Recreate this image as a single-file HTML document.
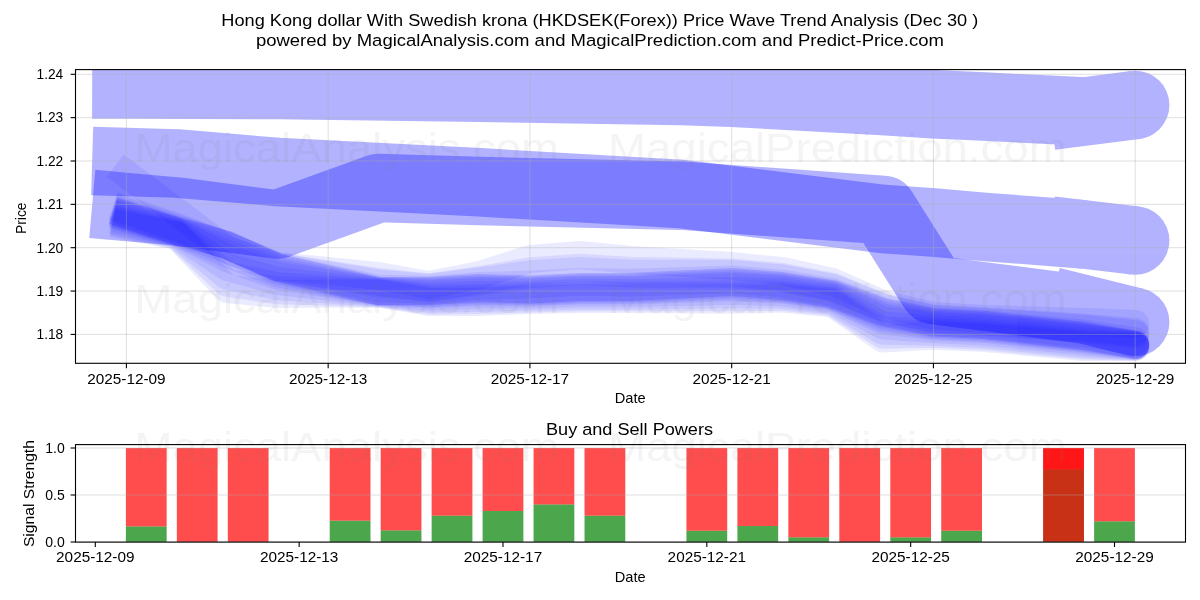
<!DOCTYPE html><html><head><meta charset="utf-8"><style>html,body{margin:0;padding:0;background:#fff;width:1200px;height:600px;overflow:hidden}</style></head><body><svg width="1200" height="600" viewBox="0 0 1200 600" style="display:block;will-change:transform">
<rect x="0" y="0" width="1200" height="600" fill="#fff"/>
<g font-family='"Liberation Sans", sans-serif'>
<text x="599.80" y="25.80" font-size="17.2" text-anchor="middle" fill="#000" textLength="757" lengthAdjust="spacingAndGlyphs">Hong Kong dollar With Swedish krona (HKDSEK(Forex)) Price Wave Trend Analysis (Dec 30 )</text>
<text x="599.90" y="46.30" font-size="17.2" text-anchor="middle" fill="#000" textLength="688" lengthAdjust="spacingAndGlyphs">powered by MagicalAnalysis.com and MagicalPrediction.com and Predict-Price.com</text>
<defs><clipPath id="cm"><rect x="75.5" y="69.6" width="1110.0" height="293.70000000000005"/></clipPath><clipPath id="cb"><rect x="75.5" y="444.6" width="1110.0" height="97.5"/></clipPath></defs>
<g clip-path="url(#cm)">
<g opacity="0.3"><path d="M92.15,84.39 L126.40,84.50 L277.72,85.00 L479.48,87.70 L681.24,91.00 L731.68,92.70 L883.00,101.00 L933.44,104.30 L983.88,106.50 L1084.76,111.50" fill="none" stroke="#0000ff" stroke-width="68.5" stroke-linejoin="round"/><path d="M1050.79,115.88 L1135.20,105.00" fill="none" stroke="#0000ff" stroke-width="68.5"/><circle cx="1135.20" cy="105.00" r="34.25" fill="#0000ff"/></g>
<g opacity="0.3"><path d="M92.17,160.98 L126.40,162.00 L176.84,163.50 L277.72,172.00 L479.48,182.30 L681.24,194.00 L883.00,219.00 L933.44,222.50 L983.88,226.80 L1084.76,234.50" fill="none" stroke="#0000ff" stroke-width="68.5" stroke-linejoin="round"/><path d="M1050.75,230.45 L1135.20,240.50" fill="none" stroke="#0000ff" stroke-width="68.5"/><circle cx="1135.20" cy="240.50" r="34.25" fill="#0000ff"/></g>
<g opacity="0.3"><path d="M92.29,203.96 L126.40,207.00 L176.84,211.50 L277.72,224.50 L378.60,188.00 L479.48,191.00 L681.24,195.70 L883.00,210.00 L933.44,290.00 L983.88,296.50 L1084.76,309.50" fill="none" stroke="#0000ff" stroke-width="68.5" stroke-linejoin="round"/><path d="M1051.52,301.26 L1135.20,322.00" fill="none" stroke="#0000ff" stroke-width="68.5"/><circle cx="1135.20" cy="322.00" r="34.25" fill="#0000ff"/></g>
<g opacity="0.08"><path d="M113.13,205.53 L126.40,210.00 L176.84,227.00 L227.28,246.00 L277.72,266.00 L378.60,276.00 L429.04,285.00 L479.48,275.00 L529.92,259.00 L580.36,255.00 L630.80,260.00 L731.68,266.00 L782.12,271.00 L832.56,282.00 L883.00,304.00 L933.44,316.00 L983.88,319.00 L1084.76,322.00 L1135.20,324.00" fill="none" stroke="#0000ff" stroke-width="28" stroke-linejoin="round"/><circle cx="1135.20" cy="324.00" r="14.0" fill="#0000ff"/></g>
<g opacity="0.08"><path d="M113.10,207.62 L126.40,212.00 L176.84,228.60 L227.28,245.60 L277.72,266.80 L378.60,282.00 L429.04,287.40 L479.48,280.20 L529.92,271.20 L580.36,267.80 L630.80,270.80 L731.68,272.40 L782.12,277.00 L832.56,286.80 L883.00,307.40 L933.44,318.60 L983.88,321.40 L1084.76,327.60 L1135.20,332.20" fill="none" stroke="#0000ff" stroke-width="28" stroke-linejoin="round"/><circle cx="1135.20" cy="332.20" r="14.0" fill="#0000ff"/></g>
<g opacity="0.08"><path d="M113.07,209.93 L126.40,214.20 L176.84,230.36 L227.28,245.16 L277.72,267.68 L378.60,288.60 L429.04,290.04 L479.48,285.92 L529.92,284.62 L580.36,281.88 L630.80,282.68 L731.68,279.44 L782.12,283.60 L832.56,292.08 L883.00,311.14 L933.44,321.46 L983.88,324.04 L1084.76,333.76 L1135.20,341.22" fill="none" stroke="#0000ff" stroke-width="28" stroke-linejoin="round"/><circle cx="1135.20" cy="341.22" r="14.0" fill="#0000ff"/></g>
<g opacity="0.08"><path d="M113.06,210.77 L126.40,215.00 L176.84,231.00 L227.28,245.00 L277.72,268.00 L378.60,291.00 L429.04,291.00 L479.48,288.00 L529.92,289.50 L580.36,287.00 L630.80,287.00 L731.68,282.00 L782.12,286.00 L832.56,294.00 L883.00,312.50 L933.44,322.50 L983.88,325.00 L1084.76,336.00 L1135.20,344.50" fill="none" stroke="#0000ff" stroke-width="28" stroke-linejoin="round"/><circle cx="1135.20" cy="344.50" r="14.0" fill="#0000ff"/></g>
<g opacity="0.08"><path d="M113.06,210.77 L126.40,215.00 L176.84,231.00 L227.28,245.00 L277.72,268.00 L378.60,291.00 L429.04,291.00 L479.48,288.00 L529.92,289.50 L580.36,287.00 L630.80,287.00 L731.68,282.00 L782.12,286.00 L832.56,294.00 L883.00,312.50 L933.44,322.50 L983.88,325.00 L1084.76,336.00 L1135.20,344.50" fill="none" stroke="#0000ff" stroke-width="28" stroke-linejoin="round"/><circle cx="1135.20" cy="344.50" r="14.0" fill="#0000ff"/></g>
<g opacity="0.08"><path d="M113.01,212.01 L126.40,216.10 L176.84,231.50 L227.28,249.40 L277.72,270.60 L378.60,291.25 L429.04,292.10 L479.48,289.40 L529.92,290.55 L580.36,288.20 L630.80,288.20 L731.68,283.77 L782.12,287.25 L832.56,294.95 L883.00,315.10 L933.44,323.82 L983.88,326.30 L1084.76,337.10 L1135.20,344.75" fill="none" stroke="#0000ff" stroke-width="28" stroke-linejoin="round"/><circle cx="1135.20" cy="344.75" r="14.0" fill="#0000ff"/></g>
<g opacity="0.08"><path d="M112.97,213.26 L126.40,217.20 L176.84,232.00 L227.28,253.80 L277.72,273.20 L378.60,291.50 L429.04,293.20 L479.48,290.80 L529.92,291.60 L580.36,289.40 L630.80,289.40 L731.68,285.55 L782.12,288.50 L832.56,295.90 L883.00,317.70 L933.44,325.14 L983.88,327.60 L1084.76,338.20 L1135.20,345.00" fill="none" stroke="#0000ff" stroke-width="28" stroke-linejoin="round"/><circle cx="1135.20" cy="345.00" r="14.0" fill="#0000ff"/></g>
<g opacity="0.08"><path d="M112.92,214.51 L126.40,218.30 L176.84,232.50 L227.28,258.20 L277.72,275.80 L378.60,291.75 L429.04,294.30 L479.48,292.20 L529.92,292.65 L580.36,290.60 L630.80,290.60 L731.68,287.32 L782.12,289.75 L832.56,296.85 L883.00,320.30 L933.44,326.46 L983.88,328.90 L1084.76,339.30 L1135.20,345.25" fill="none" stroke="#0000ff" stroke-width="28" stroke-linejoin="round"/><circle cx="1135.20" cy="345.25" r="14.0" fill="#0000ff"/></g>
<g opacity="0.08"><path d="M112.84,217.01 L126.40,220.50 L176.84,233.50 L227.28,267.00 L277.72,281.00 L378.60,292.25 L429.04,296.50 L479.48,295.00 L529.92,294.75 L580.36,293.00 L630.80,293.00 L731.68,290.88 L782.12,292.25 L832.56,298.75 L883.00,325.50 L933.44,329.10 L983.88,331.50 L1084.76,341.50 L1135.20,345.75" fill="none" stroke="#0000ff" stroke-width="28" stroke-linejoin="round"/><circle cx="1135.20" cy="345.75" r="14.0" fill="#0000ff"/></g>
<g opacity="0.08"><path d="M112.77,219.51 L126.40,222.70 L176.84,234.50 L227.28,275.80 L277.72,286.20 L378.60,292.75 L429.04,298.70 L479.48,297.80 L529.92,296.85 L580.36,295.40 L630.80,295.40 L731.68,294.43 L782.12,294.75 L832.56,300.65 L883.00,330.70 L933.44,331.74 L983.88,334.10 L1084.76,343.70 L1135.20,346.25" fill="none" stroke="#0000ff" stroke-width="28" stroke-linejoin="round"/><circle cx="1135.20" cy="346.25" r="14.0" fill="#0000ff"/></g>
<g opacity="0.08"><path d="M112.71,221.52 L126.40,224.46 L176.84,235.30 L227.28,282.84 L277.72,290.36 L378.60,293.15 L429.04,300.46 L479.48,300.04 L529.92,298.53 L580.36,297.32 L630.80,297.32 L731.68,297.26 L782.12,296.75 L832.56,302.17 L883.00,334.86 L933.44,333.85 L983.88,336.18 L1084.76,345.46 L1135.20,346.65" fill="none" stroke="#0000ff" stroke-width="28" stroke-linejoin="round"/><circle cx="1135.20" cy="346.65" r="14.0" fill="#0000ff"/></g>
<g opacity="0.08"><path d="M112.67,223.28 L126.40,226.00 L176.84,236.00 L227.28,289.00 L277.72,294.00 L378.60,293.50 L429.04,302.00 L479.48,302.00 L529.92,300.00 L580.36,299.00 L630.80,299.00 L731.68,299.75 L782.12,298.50 L832.56,303.50 L883.00,338.50 L933.44,335.70 L983.88,338.00 L1084.76,347.00 L1135.20,347.00" fill="none" stroke="#0000ff" stroke-width="28" stroke-linejoin="round"/><circle cx="1135.20" cy="347.00" r="14.0" fill="#0000ff"/></g>
<g opacity="0.08"><path d="M115.22,165.58 L126.40,174.00 L176.84,212.00 L227.28,250.00 L277.72,267.00 L378.60,283.50 L429.04,288.00 L479.48,281.50 L529.92,274.25 L580.36,271.00 L630.80,273.50 L731.68,274.00 L782.12,278.50 L832.56,288.00 L883.00,308.25 L933.44,319.25 L983.88,322.00 L1084.76,329.00 L1135.20,334.25" fill="none" stroke="#0000ff" stroke-width="28" stroke-linejoin="round"/><circle cx="1135.20" cy="334.25" r="14.0" fill="#0000ff"/></g>
</g>
<g stroke="#b0b0b0" stroke-opacity="0.5" stroke-width="0.8">
<line x1="126.40" y1="69.6" x2="126.40" y2="363.3"/>
<line x1="328.16" y1="69.6" x2="328.16" y2="363.3"/>
<line x1="529.92" y1="69.6" x2="529.92" y2="363.3"/>
<line x1="731.68" y1="69.6" x2="731.68" y2="363.3"/>
<line x1="933.44" y1="69.6" x2="933.44" y2="363.3"/>
<line x1="1135.20" y1="69.6" x2="1135.20" y2="363.3"/>
<line x1="75.5" y1="334.40" x2="1185.5" y2="334.40"/>
<line x1="75.5" y1="291.05" x2="1185.5" y2="291.05"/>
<line x1="75.5" y1="247.70" x2="1185.5" y2="247.70"/>
<line x1="75.5" y1="204.35" x2="1185.5" y2="204.35"/>
<line x1="75.5" y1="161.00" x2="1185.5" y2="161.00"/>
<line x1="75.5" y1="117.65" x2="1185.5" y2="117.65"/>
<line x1="75.5" y1="74.30" x2="1185.5" y2="74.30"/>
</g>
<g fill="#808080" fill-opacity="0.085" font-size="42">
<text x="134.50" y="313.00" font-size="40.5" text-anchor="start" fill="#808080" textLength="424.5" lengthAdjust="spacingAndGlyphs">MagicalAnalysis.com</text>
<text x="608.00" y="313.00" font-size="40.5" text-anchor="start" fill="#808080" textLength="458.7" lengthAdjust="spacingAndGlyphs">MagicalPrediction.com</text>
</g>
<g fill="#808080" fill-opacity="0.085" font-size="42">
<text x="134.50" y="162.00" font-size="40.5" text-anchor="start" fill="#808080" textLength="424.5" lengthAdjust="spacingAndGlyphs">MagicalAnalysis.com</text>
<text x="608.00" y="162.00" font-size="40.5" text-anchor="start" fill="#808080" textLength="458.7" lengthAdjust="spacingAndGlyphs">MagicalPrediction.com</text>
</g>
<rect x="75.5" y="69.6" width="1110.0" height="293.70000000000005" fill="none" stroke="#000" stroke-width="1.1"/>
<g stroke="#000" stroke-width="1.1">
<line x1="126.40" y1="363.3" x2="126.40" y2="368.2"/>
<line x1="328.16" y1="363.3" x2="328.16" y2="368.2"/>
<line x1="529.92" y1="363.3" x2="529.92" y2="368.2"/>
<line x1="731.68" y1="363.3" x2="731.68" y2="368.2"/>
<line x1="933.44" y1="363.3" x2="933.44" y2="368.2"/>
<line x1="1135.20" y1="363.3" x2="1135.20" y2="368.2"/>
<line x1="70.6" y1="334.40" x2="75.5" y2="334.40"/>
<line x1="70.6" y1="291.05" x2="75.5" y2="291.05"/>
<line x1="70.6" y1="247.70" x2="75.5" y2="247.70"/>
<line x1="70.6" y1="204.35" x2="75.5" y2="204.35"/>
<line x1="70.6" y1="161.00" x2="75.5" y2="161.00"/>
<line x1="70.6" y1="117.65" x2="75.5" y2="117.65"/>
<line x1="70.6" y1="74.30" x2="75.5" y2="74.30"/>
</g>
<text x="126.40" y="383.75" font-size="13.9" text-anchor="middle" fill="#000" textLength="78.4" lengthAdjust="spacingAndGlyphs">2025-12-09</text>
<text x="328.16" y="383.75" font-size="13.9" text-anchor="middle" fill="#000" textLength="78.4" lengthAdjust="spacingAndGlyphs">2025-12-13</text>
<text x="529.92" y="383.75" font-size="13.9" text-anchor="middle" fill="#000" textLength="78.4" lengthAdjust="spacingAndGlyphs">2025-12-17</text>
<text x="731.68" y="383.75" font-size="13.9" text-anchor="middle" fill="#000" textLength="78.4" lengthAdjust="spacingAndGlyphs">2025-12-21</text>
<text x="933.44" y="383.75" font-size="13.9" text-anchor="middle" fill="#000" textLength="78.4" lengthAdjust="spacingAndGlyphs">2025-12-25</text>
<text x="1135.20" y="383.75" font-size="13.9" text-anchor="middle" fill="#000" textLength="78.4" lengthAdjust="spacingAndGlyphs">2025-12-29</text>
<text x="63.20" y="339.20" font-size="13.9" text-anchor="end" fill="#000" textLength="26.7" lengthAdjust="spacingAndGlyphs">1.18</text>
<text x="63.20" y="295.85" font-size="13.9" text-anchor="end" fill="#000" textLength="26.7" lengthAdjust="spacingAndGlyphs">1.19</text>
<text x="63.20" y="252.50" font-size="13.9" text-anchor="end" fill="#000" textLength="26.7" lengthAdjust="spacingAndGlyphs">1.20</text>
<text x="63.20" y="209.15" font-size="13.9" text-anchor="end" fill="#000" textLength="26.7" lengthAdjust="spacingAndGlyphs">1.21</text>
<text x="63.20" y="165.80" font-size="13.9" text-anchor="end" fill="#000" textLength="26.7" lengthAdjust="spacingAndGlyphs">1.22</text>
<text x="63.20" y="122.45" font-size="13.9" text-anchor="end" fill="#000" textLength="26.7" lengthAdjust="spacingAndGlyphs">1.23</text>
<text x="63.20" y="79.10" font-size="13.9" text-anchor="end" fill="#000" textLength="26.7" lengthAdjust="spacingAndGlyphs">1.24</text>
<text x="630.20" y="402.80" font-size="13.9" text-anchor="middle" fill="#000" textLength="30.9" lengthAdjust="spacingAndGlyphs">Date</text>
<text x="26.30" y="218.20" font-size="13.9" text-anchor="middle" fill="#000" textLength="31.5" lengthAdjust="spacingAndGlyphs" transform="rotate(-90 26.3 218.2)">Price</text>
<g clip-path="url(#cb)">
<rect x="125.88" y="526.40" width="40.77" height="15.60" fill="#008000" fill-opacity="0.7"/>
<rect x="125.88" y="448.00" width="40.77" height="78.40" fill="#ff0000" fill-opacity="0.7"/>
<rect x="176.84" y="448.00" width="40.77" height="94.00" fill="#ff0000" fill-opacity="0.7"/>
<rect x="227.80" y="448.00" width="40.77" height="94.00" fill="#ff0000" fill-opacity="0.7"/>
<rect x="329.72" y="520.66" width="40.77" height="21.34" fill="#008000" fill-opacity="0.7"/>
<rect x="329.72" y="448.00" width="40.77" height="72.66" fill="#ff0000" fill-opacity="0.7"/>
<rect x="380.68" y="530.34" width="40.77" height="11.66" fill="#008000" fill-opacity="0.7"/>
<rect x="380.68" y="448.00" width="40.77" height="82.34" fill="#ff0000" fill-opacity="0.7"/>
<rect x="431.64" y="515.68" width="40.77" height="26.32" fill="#008000" fill-opacity="0.7"/>
<rect x="431.64" y="448.00" width="40.77" height="67.68" fill="#ff0000" fill-opacity="0.7"/>
<rect x="482.60" y="510.98" width="40.77" height="31.02" fill="#008000" fill-opacity="0.7"/>
<rect x="482.60" y="448.00" width="40.77" height="62.98" fill="#ff0000" fill-opacity="0.7"/>
<rect x="533.56" y="504.40" width="40.77" height="37.60" fill="#008000" fill-opacity="0.7"/>
<rect x="533.56" y="448.00" width="40.77" height="56.40" fill="#ff0000" fill-opacity="0.7"/>
<rect x="584.52" y="515.68" width="40.77" height="26.32" fill="#008000" fill-opacity="0.7"/>
<rect x="584.52" y="448.00" width="40.77" height="67.68" fill="#ff0000" fill-opacity="0.7"/>
<rect x="686.44" y="530.72" width="40.77" height="11.28" fill="#008000" fill-opacity="0.7"/>
<rect x="686.44" y="448.00" width="40.77" height="82.72" fill="#ff0000" fill-opacity="0.7"/>
<rect x="737.40" y="526.02" width="40.77" height="15.98" fill="#008000" fill-opacity="0.7"/>
<rect x="737.40" y="448.00" width="40.77" height="78.02" fill="#ff0000" fill-opacity="0.7"/>
<rect x="788.36" y="537.30" width="40.77" height="4.70" fill="#008000" fill-opacity="0.7"/>
<rect x="788.36" y="448.00" width="40.77" height="89.30" fill="#ff0000" fill-opacity="0.7"/>
<rect x="839.32" y="448.00" width="40.77" height="94.00" fill="#ff0000" fill-opacity="0.7"/>
<rect x="890.28" y="537.30" width="40.77" height="4.70" fill="#008000" fill-opacity="0.7"/>
<rect x="890.28" y="448.00" width="40.77" height="89.30" fill="#ff0000" fill-opacity="0.7"/>
<rect x="941.24" y="530.72" width="40.77" height="11.28" fill="#008000" fill-opacity="0.7"/>
<rect x="941.24" y="448.00" width="40.77" height="82.72" fill="#ff0000" fill-opacity="0.7"/>
<rect x="1043.16" y="469.24" width="40.77" height="72.76" fill="#008000" fill-opacity="0.7"/>
<rect x="1043.16" y="448.00" width="40.77" height="21.24" fill="#ff0000" fill-opacity="0.7"/>
<rect x="1043.16" y="448.00" width="40.77" height="94.00" fill="#ff0000" fill-opacity="0.7"/>
<rect x="1094.12" y="521.32" width="40.77" height="20.68" fill="#008000" fill-opacity="0.7"/>
<rect x="1094.12" y="448.00" width="40.77" height="73.32" fill="#ff0000" fill-opacity="0.7"/>
</g>
<g stroke="#b0b0b0" stroke-opacity="0.5" stroke-width="0.8">
<line x1="75.5" y1="542.00" x2="1185.5" y2="542.00"/>
<line x1="75.5" y1="495.00" x2="1185.5" y2="495.00"/>
<line x1="75.5" y1="448.00" x2="1185.5" y2="448.00"/>
</g>
<g fill="#808080" fill-opacity="0.085">
<text x="134.50" y="461.00" font-size="40.5" text-anchor="start" fill="#808080" textLength="424.5" lengthAdjust="spacingAndGlyphs">MagicalAnalysis.com</text>
<text x="608.00" y="461.00" font-size="40.5" text-anchor="start" fill="#808080" textLength="458.7" lengthAdjust="spacingAndGlyphs">MagicalPrediction.com</text>
</g>
<rect x="75.5" y="444.6" width="1110.0" height="97.5" fill="none" stroke="#000" stroke-width="1.1"/>
<g stroke="#000" stroke-width="1.1">
<line x1="95.30" y1="542.1" x2="95.30" y2="547.0"/>
<line x1="299.14" y1="542.1" x2="299.14" y2="547.0"/>
<line x1="502.98" y1="542.1" x2="502.98" y2="547.0"/>
<line x1="706.82" y1="542.1" x2="706.82" y2="547.0"/>
<line x1="910.66" y1="542.1" x2="910.66" y2="547.0"/>
<line x1="1114.50" y1="542.1" x2="1114.50" y2="547.0"/>
<line x1="70.6" y1="542.00" x2="75.5" y2="542.00"/>
<line x1="70.6" y1="495.00" x2="75.5" y2="495.00"/>
<line x1="70.6" y1="448.00" x2="75.5" y2="448.00"/>
</g>
<text x="95.30" y="561.50" font-size="13.9" text-anchor="middle" fill="#000" textLength="78.4" lengthAdjust="spacingAndGlyphs">2025-12-09</text>
<text x="299.14" y="561.50" font-size="13.9" text-anchor="middle" fill="#000" textLength="78.4" lengthAdjust="spacingAndGlyphs">2025-12-13</text>
<text x="502.98" y="561.50" font-size="13.9" text-anchor="middle" fill="#000" textLength="78.4" lengthAdjust="spacingAndGlyphs">2025-12-17</text>
<text x="706.82" y="561.50" font-size="13.9" text-anchor="middle" fill="#000" textLength="78.4" lengthAdjust="spacingAndGlyphs">2025-12-21</text>
<text x="910.66" y="561.50" font-size="13.9" text-anchor="middle" fill="#000" textLength="78.4" lengthAdjust="spacingAndGlyphs">2025-12-25</text>
<text x="1114.50" y="561.50" font-size="13.9" text-anchor="middle" fill="#000" textLength="78.4" lengthAdjust="spacingAndGlyphs">2025-12-29</text>
<text x="64.80" y="546.80" font-size="13.9" text-anchor="end" fill="#000" textLength="19.5" lengthAdjust="spacingAndGlyphs">0.0</text>
<text x="64.80" y="499.80" font-size="13.9" text-anchor="end" fill="#000" textLength="19.5" lengthAdjust="spacingAndGlyphs">0.5</text>
<text x="64.80" y="452.80" font-size="13.9" text-anchor="end" fill="#000" textLength="19.5" lengthAdjust="spacingAndGlyphs">1.0</text>
<text x="630.20" y="581.80" font-size="13.9" text-anchor="middle" fill="#000" textLength="30.9" lengthAdjust="spacingAndGlyphs">Date</text>
<text x="34.10" y="493.60" font-size="13.9" text-anchor="middle" fill="#000" textLength="107" lengthAdjust="spacingAndGlyphs" transform="rotate(-90 34.1 493.6)">Signal Strength</text>
<text x="629.50" y="434.50" font-size="16.7" text-anchor="middle" fill="#000" textLength="167" lengthAdjust="spacingAndGlyphs">Buy and Sell Powers</text>
</g></svg></body></html>
